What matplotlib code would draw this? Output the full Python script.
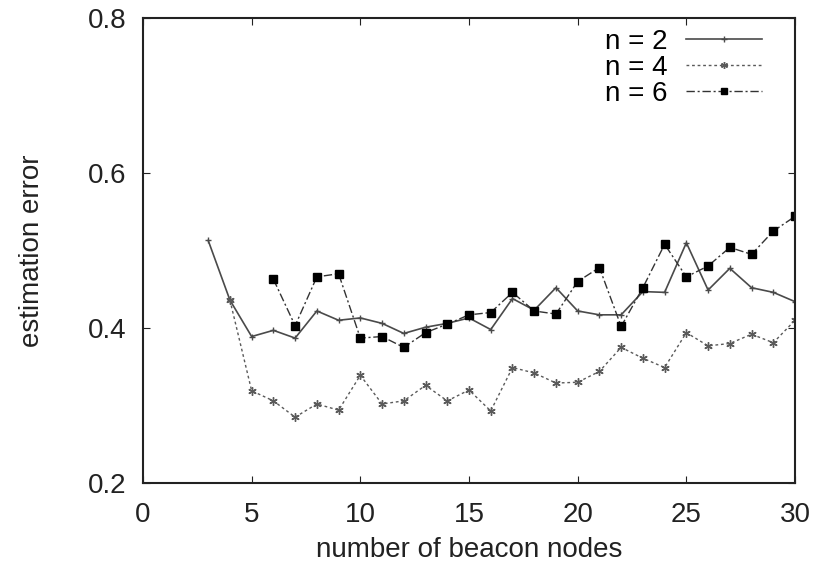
import matplotlib
matplotlib.use("Agg")
import matplotlib.pyplot as plt

plt.rcParams['font.family'] = ['Liberation Sans', 'DejaVu Sans']

x2 = list(range(3, 31))
n2 = [0.513, 0.436, 0.389, 0.397, 0.387, 0.422, 0.410, 0.413, 0.406, 0.393,
      0.401, 0.406, 0.413, 0.398, 0.438, 0.423, 0.452, 0.422, 0.417, 0.417,
      0.447, 0.446, 0.510, 0.449, 0.477, 0.452, 0.446, 0.434]

x4 = list(range(4, 31))
n4 = [0.436, 0.319, 0.306, 0.285, 0.302, 0.294, 0.339, 0.302, 0.306, 0.326,
      0.306, 0.320, 0.293, 0.349, 0.342, 0.329, 0.330, 0.344, 0.375, 0.361,
      0.349, 0.394, 0.377, 0.380, 0.392, 0.381, 0.410]

x6 = list(range(6, 31))
n6 = [0.463, 0.403, 0.466, 0.470, 0.387, 0.389, 0.375, 0.394, 0.405, 0.417,
      0.420, 0.446, 0.422, 0.418, 0.460, 0.478, 0.402, 0.452, 0.508, 0.466,
      0.480, 0.504, 0.495, 0.525, 0.544]

labels = ['n = 2', 'n = 4', 'n = 6']
xticks = [0, 5, 10, 15, 20, 25, 30]
yticks = [0.2, 0.4, 0.6, 0.8]

fig = plt.figure(figsize=(8.26, 5.69), dpi=100)
ax = fig.add_axes([0.1731, 0.1511, 0.7894, 0.8173])

ax.plot(x2, n2, color='#4a4a4a', lw=1.2, ls='-', marker='+', ms=5, mew=1.0,
        label=labels[0])
ax.plot(x4, n4, color='#5a5a5a', lw=1.0, ls=(0, (2, 2)), marker=(6, 2, 0), ms=6,
        mew=1.0, label=labels[1])
ax.plot(x6, n6, color='#333333', lw=1.0, ls=(0, (6, 2, 1.5, 2)), marker='s', ms=5.5,
        mfc='black', mec='black', label=labels[2])

ax.set_xlim(0, 30)
ax.set_ylim(0.2, 0.8)
ax.set_xticks(xticks)
ax.set_yticks(yticks)
ax.set_xticklabels([str(t) for t in xticks])
ax.set_yticklabels(['%.1f' % t for t in yticks])
ax.tick_params(direction='in', top=True, right=True, length=5, width=0.8,
               labelsize=20, colors='#222222')
ax.tick_params(axis='x', pad=14)
ax.tick_params(axis='y', pad=12)
for s in ax.spines.values():
    s.set_linewidth(1.5)
    s.set_color('#222222')

ax.set_xlabel('number of beacon nodes', fontsize=20, color='#222222', va='center')
ax.set_ylabel('estimation error', fontsize=20, color='#222222', va='center')
ax.xaxis.set_label_coords(0.5, -0.144)
ax.yaxis.set_label_coords(-0.170, 0.5)

leg = ax.legend(loc='upper right', frameon=False, fontsize=20, markerfirst=False,
                handlelength=2.73, handletextpad=0.65, labelspacing=0.0,
                borderpad=0, borderaxespad=0, bbox_to_anchor=(0.949, 0.977))
for h in leg.legend_handles:
    h.set_markersize(5)

fig.savefig('out.png', dpi=100)
